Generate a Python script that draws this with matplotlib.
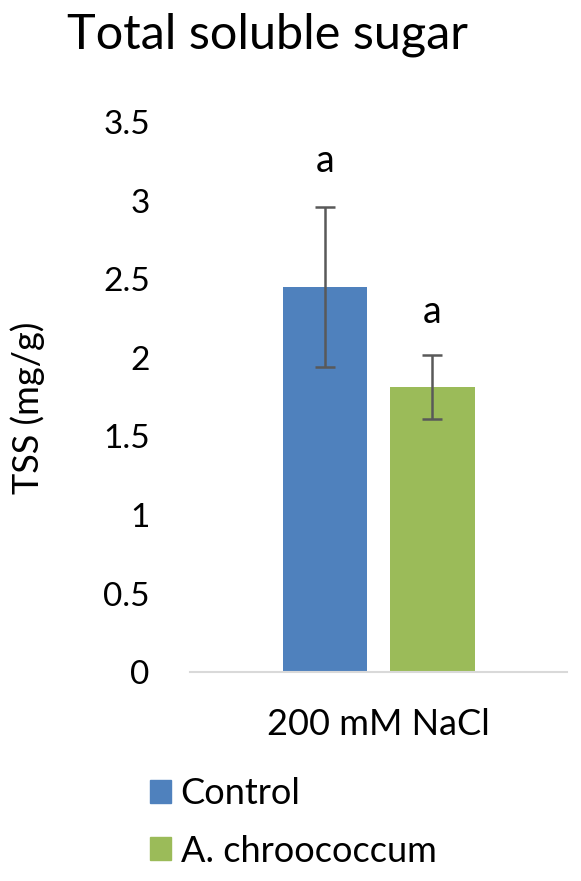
import numpy as np
import matplotlib.pyplot as plt
from matplotlib.patches import Patch

plt.rcParams['font.family'] = ['Lato', 'DejaVu Sans']

# data
groups = ['Control', 'A. chroococcum']
means = [2.45, 1.815]
errors = [0.51, 0.205]
letters = ['a', 'a']
colors = ['#4F81BD', '#9BBB59']
category = '200 mM NaCl'

fig = plt.figure(figsize=(5.81, 8.81), dpi=100)
ax = fig.add_axes([0.327, 0.237, 0.649, 0.6245])

offsets = [-0.142, 0.143]
width = 0.225
for i in range(len(groups)):
    ax.bar(offsets[i], means[i], width=width, color=colors[i], zorder=2)
    ax.errorbar(offsets[i], means[i], yerr=errors[i], color='#595959',
                elinewidth=1.8, capsize=7, capthick=1.8, zorder=3)

# letters above the error bars
ax.text(offsets[0], 3.25, letters[0], ha='center', va='center', fontsize=27)
ax.text(offsets[1], 2.29, letters[1], ha='center', va='center', fontsize=27)

ax.set_xlim(-0.5, 0.5)
ax.set_ylim(0, 3.5)
ax.set_yticks(np.arange(0, 3.51, 0.5))
ax.set_yticklabels(['0', '0.5', '1', '1.5', '2', '2.5', '3', '3.5'], fontsize=24)
ax.set_xticks([0])
ax.set_xticklabels([category], fontsize=26)
ax.tick_params(axis='both', length=0)
ax.tick_params(axis='y', pad=29)
ax.tick_params(axis='x', pad=26)

for s in ['top', 'right', 'left']:
    ax.spines[s].set_visible(False)
ax.spines['bottom'].set_color('#D9D9D9')
ax.spines['bottom'].set_linewidth(1.5)

fig.text(0.048, 0.537, 'TSS (mg/g)', rotation=90, ha='center', va='center', fontsize=26)
fig.text(0.46, 0.960, 'Total soluble sugar', ha='center', va='center', fontsize=35)

handles = [Patch(color=c) for c in colors]
fig.legend(handles, groups, loc='upper left', bbox_to_anchor=(0.233, 0.134),
           frameon=False, fontsize=26, handlelength=0.6, handleheight=0.6,
           handletextpad=0.25, labelspacing=0.67, borderaxespad=0)

plt.savefig('out.png', dpi=100)
